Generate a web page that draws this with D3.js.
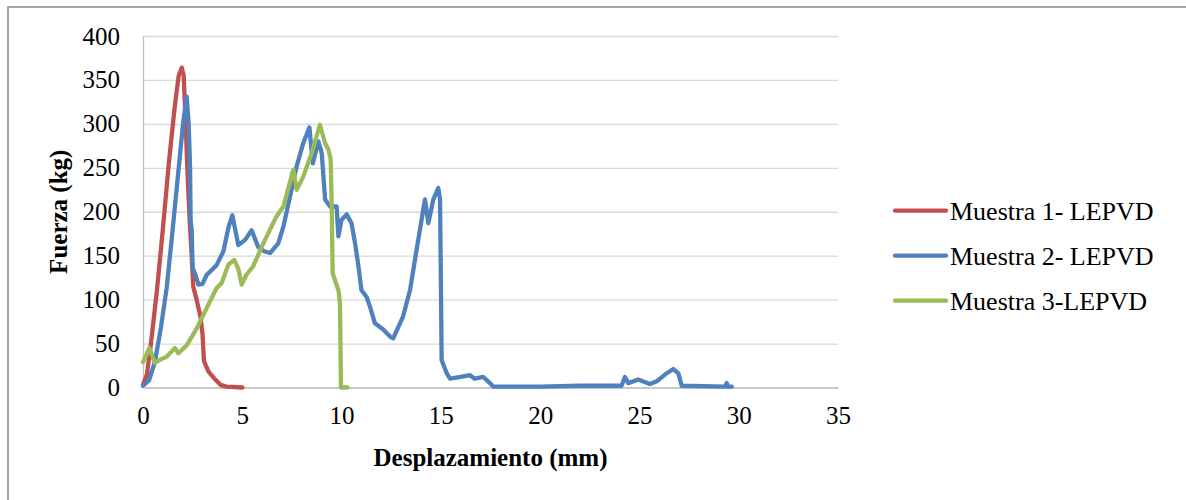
<!DOCTYPE html>
<html>
<head>
<meta charset="utf-8">
<script src="https://cdn.jsdelivr.net/npm/d3@7"></script>
<style>
  body { margin: 0; background: #fff; }
  svg text { font-family: "Liberation Serif", "Times New Roman", Times, serif; fill: #000; }
</style>
</head>
<body>
<div id="chart"></div>
<script>
// Muestra 1- LEPVD  (desplazamiento mm, fuerza kg)
var muestra1 = [
  [0, 3], [0.2, 15], [0.4, 50], [0.7, 110], [1.0, 180], [1.3, 255], [1.6, 320],
  [1.8, 355], [1.95, 364], [2.05, 355], [2.15, 300], [2.25, 240], [2.35, 190],
  [2.45, 150], [2.53, 115], [2.7, 100], [2.9, 80], [3.0, 60], [3.07, 30],
  [3.3, 18], [3.6, 10], [3.9, 3], [4.2, 1], [5.0, 0]
];
// Muestra 2- LEPVD
var muestra2 = [
  [0, 2], [0.3, 8], [0.6, 29], [0.9, 68], [1.19, 113], [1.45, 170], [1.7, 227],
  [2.03, 303], [2.2, 331], [2.3, 300], [2.37, 250], [2.4, 189], [2.45, 180],
  [2.5, 136], [2.65, 128], [2.79, 117], [3.0, 118], [3.2, 128], [3.7, 139],
  [4.05, 155], [4.3, 182], [4.5, 196], [4.8, 162], [5.14, 168], [5.47, 179],
  [5.8, 160], [6.1, 155], [6.4, 153], [6.81, 164], [7.07, 183], [7.4, 217],
  [7.74, 252], [8.07, 278], [8.38, 296], [8.55, 255], [8.83, 280], [9.0, 267],
  [9.17, 214], [9.42, 206], [9.75, 206], [9.84, 172], [10.0, 191], [10.26, 197],
  [10.5, 187], [10.68, 164], [10.85, 138], [11.0, 111], [11.26, 103], [11.43, 92],
  [11.68, 73], [12.1, 66], [12.44, 58], [12.6, 56], [13.1, 81], [13.45, 111],
  [13.78, 157], [14.2, 214], [14.37, 187], [14.62, 214], [14.87, 227], [14.96, 214],
  [15.04, 31], [15.3, 16], [15.46, 10], [16.0, 12], [16.47, 14], [16.7, 10],
  [17.14, 12], [17.47, 5], [17.64, 1], [20.0, 1], [22.0, 2], [24.1, 2],
  [24.27, 12], [24.44, 5], [24.94, 9], [25.53, 4], [25.87, 7], [26.3, 15],
  [26.71, 21], [26.96, 16], [27.13, 2], [29.3, 1], [29.4, 5], [29.45, 1], [29.65, 1]
];
// Muestra 3-LEPVD
var muestra3 = [
  [0, 29], [0.32, 45], [0.6, 28], [0.9, 32], [1.19, 35], [1.61, 45], [1.78, 39],
  [2.2, 48], [2.7, 67], [3.2, 90], [3.7, 113], [3.96, 119], [4.3, 140], [4.6, 145],
  [4.8, 135], [4.97, 117], [5.2, 128], [5.55, 138], [6.06, 164], [6.4, 180],
  [6.73, 195], [7.07, 206], [7.57, 248], [7.74, 225], [8.07, 240], [8.5, 267],
  [8.91, 299], [9.17, 278], [9.33, 271], [9.45, 260], [9.5, 210], [9.55, 130],
  [9.7, 120], [9.85, 110], [9.92, 95], [9.97, 0], [10.3, 0]
];

var seriesNames = ["Muestra 1- LEPVD", "Muestra 2- LEPVD", "Muestra 3-LEPVD"];
var seriesColors = ["#c0504d", "#4f81bd", "#9bbb59"];
var xTicks = [0, 5, 10, 15, 20, 25, 30, 35];
var yTicks = [0, 50, 100, 150, 200, 250, 300, 350, 400];

var serif = "'Liberation Serif', 'Times New Roman', Times, serif";
var width = 1186, height = 500;
var margin = {top: 36, right: 348, bottom: 112.5, left: 143};
var w = width - margin.left - margin.right;
var h = height - margin.top - margin.bottom;

var svg = d3.select("#chart").append("svg")
  .attr("width", width)
  .attr("height", height);

// outer chart frame
svg.append("rect")
  .attr("x", 8).attr("y", 7)
  .attr("width", 1200).attr("height", 520)
  .attr("fill", "none")
  .attr("stroke", "#a6a6a6")
  .attr("stroke-width", 2);

var g = svg.append("g")
  .attr("transform", "translate(" + margin.left + "," + margin.top + ")");

var x = d3.scaleLinear().domain([0, 35]).range([0, w]);
var y = d3.scaleLinear().domain([0, 400]).range([h, 0]);

// gridlines
g.append("g")
  .call(d3.axisLeft(y).tickValues(yTicks).tickSize(-w).tickFormat(""))
  .call(function(a) {
    a.select(".domain").remove();
    a.selectAll("line").attr("stroke", "#d9d9d9").attr("stroke-width", 1.3);
  });

// y axis
g.append("g")
  .attr("font-family", serif)
  .call(d3.axisLeft(y).tickValues(yTicks).tickSize(0).tickPadding(23))
  .call(function(a) {
    a.attr("font-family", serif).attr("font-size", 25);
    a.select(".domain").attr("stroke", "#bfbfbf").attr("stroke-width", 1.3);
    a.selectAll("text").attr("fill", "#000");
  });

// x axis
g.append("g")
  .attr("transform", "translate(0," + h + ")")
  .call(d3.axisBottom(x).tickValues(xTicks).tickSize(0).tickPadding(19))
  .call(function(a) {
    a.attr("font-family", serif).attr("font-size", 25);
    a.select(".domain").attr("stroke", "#bfbfbf").attr("stroke-width", 1.3);
    a.selectAll("text").attr("fill", "#000");
  });

var line = d3.line()
  .x(function(d) { return x(d[0]); })
  .y(function(d) { return y(d[1]); });

[muestra1, muestra2, muestra3].forEach(function(s, i) {
  g.append("path")
    .datum(s)
    .attr("fill", "none")
    .attr("stroke", seriesColors[i])
    .attr("stroke-width", 4.3)
    .attr("stroke-linejoin", "round")
    .attr("stroke-linecap", "round")
    .attr("d", line);
});

// axis titles
svg.append("text")
  .attr("x", margin.left + w / 2)
  .attr("y", 466)
  .attr("text-anchor", "middle")
  .attr("font-family", serif)
  .attr("font-size", 25)
  .attr("font-weight", "bold")
  .text("Desplazamiento (mm)");

svg.append("text")
  .attr("transform", "translate(67," + (margin.top + h / 2) + ") rotate(-90)")
  .attr("text-anchor", "middle")
  .attr("font-family", serif)
  .attr("font-size", 25)
  .attr("font-weight", "bold")
  .text("Fuerza (kg)");

// legend
var legend = svg.append("g");
seriesNames.forEach(function(name, i) {
  var ly = 210.7 + i * 45;
  legend.append("line")
    .attr("x1", 895).attr("x2", 946)
    .attr("y1", ly).attr("y2", ly)
    .attr("stroke", seriesColors[i])
    .attr("stroke-width", 4.3)
    .attr("stroke-linecap", "round");
  legend.append("text")
    .attr("x", 950)
    .attr("y", ly + 9)
    .attr("font-family", serif)
    .attr("font-size", 26)
    .text(name);
});
</script>
</body>
</html>
